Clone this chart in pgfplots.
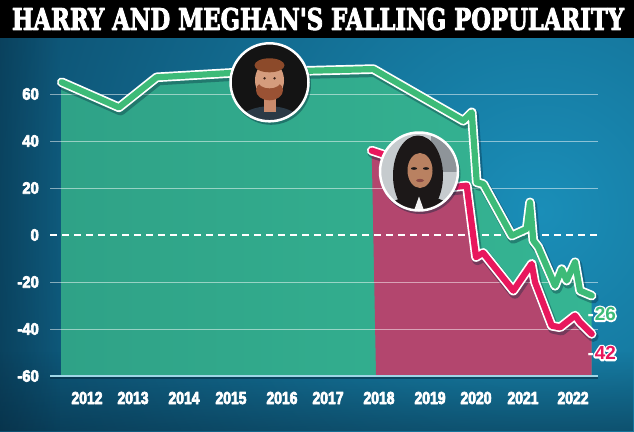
\documentclass[border=0pt]{standalone}
\usepackage{pgfplots}
\pgfplotsset{compat=1.18}
\usepackage{pgfplotstable}
\usepackage{graphicx}
\usepackage{fontspec}
\usetikzlibrary{fadings}
\setmainfont{Liberation Sans}
\newfontfamily\ttlf{DejaVu Serif}
\newfontfamily\xtf[FakeStretch=0.8]{Liberation Sans}
\newfontfamily\ytf[FakeStretch=0.9]{Liberation Sans}
\newfontfamily\lbf{Liberation Sans}

\definecolor{bgdark}{HTML}{09405E}
\definecolor{bglight}{HTML}{1A8EB8}
\definecolor{gfill}{HTML}{35B593}
\definecolor{gfillL}{HTML}{2FA287}
\definecolor{rfill}{HTML}{B3466E}
\definecolor{hgreen}{HTML}{3DBB78}
\definecolor{mred}{HTML}{E8175D}
\definecolor{shadowc}{HTML}{06263A}
\definecolor{basec}{HTML}{9FD6E6}
\definecolor{hshirt}{HTML}{2B3A46}
\definecolor{hneck}{HTML}{C98B6C}
\definecolor{hskin}{HTML}{D59C7D}
\definecolor{hbeard}{HTML}{9A5234}
\definecolor{hhair}{HTML}{8C4A2A}
\definecolor{heye}{HTML}{3A2218}
\definecolor{mbg}{HTML}{C6CBCE}
\definecolor{mbg2}{HTML}{8E9499}
\definecolor{mhair}{HTML}{1C1818}
\definecolor{mcollar}{HTML}{F2F2F2}
\definecolor{mskin}{HTML}{B98161}
\definecolor{mlip}{HTML}{8A4A44}

% heavier white tick labels (white stroke, single text)
\newcommand\sh[1]{\special{pdf:code q 1 1 1 RG 0.7 w 1 j 2 Tr}#1\special{pdf:code Q}}
% white outline for end labels
\newcommand\outl[2]{\leavevmode\rlap{\textcolor{white}{\special{pdf:code q 1 1 1 RG 3.4 w 1 j 2 Tr}#2\special{pdf:code Q}}}\textcolor{#1}{#2}}

% Harry (green) popularity
\pgfplotstableread{
x y
2011.48 65.0
2012.658 54.3
2013.434 67.1
2015.004 69.0
2016.588 69.9
2017.891 70.6
2019.743 48.6
2019.916 52.2
2020.019 22.4
2020.154 21.7
2020.739 -0.3
2021.047 2.6
2021.115 13.9
2021.183 -2.4
2021.286 -5.2
2021.630 -21.6
2021.767 -14.5
2021.870 -19.4
2022.041 -11.6
2022.144 -23.7
2022.385 -25.8
}\harry

% Meghan (red) popularity
\pgfplotstableread{
x y
2017.858 35.9
2018.064 34.5
2019.504 20.3
2019.813 21.0
2020.004 -9.4
2020.150 -7.6
2020.772 -23.7
2021.150 -12.3
2021.218 -20.1
2021.562 -38.6
2021.733 -39.3
2022.041 -34.3
2022.144 -37.2
2022.385 -42.1
}\meghan

\begin{document}
\begin{tikzpicture}[x=1bp,y=1bp]
\useasboundingbox (0,0) rectangle (634,431);
% background
\begin{scope}
\clip (0,0) rectangle (634,431);
\fill[bgdark] (0,0) rectangle (634,431);
\shade[inner color=bglight, outer color=bgdark] (540,220) circle (720);
\fill[shadowc, opacity=0.45, path fading=north] (0,0) rectangle (634,80);
\fill[shadowc, opacity=0.35, path fading=east] (0,0) rectangle (60,431);
\end{scope}
% title bar
\fill[black] (0,393) rectangle (634,431);
\node[text=white, inner sep=0pt] at (318,412)
  {\resizebox{612bp}{22bp}{\special{pdf:code q 1 1 1 RG 0.35 w 1 j 2 Tr}\ttlf\bfseries HARRY AND MEGHAN'S FALLING POPULARITY\special{pdf:code Q}}};

\begin{axis}[
  at={(50bp,55bp)}, anchor=south west,
  scale only axis, width=548bp, height=282bp,
  xmin=2011.239, xmax=2022.514, ymin=-60, ymax=60,
  clip=false,
  axis line style={draw=none},
  major tick style={draw=none},
  xtick={2012,2012.947,2013.996,2014.963,2016.012,2016.959,2018.008,2019.058,2020.004,2020.971,2022},
  xticklabels={\sh{2012},\sh{2013},\sh{2014},\sh{2015},\sh{2016},\sh{2017},\sh{2018},\sh{2019},\sh{2020},\sh{2021},\sh{2022}},
  ytick={-60,-40,-20,0,20,40,60},
  yticklabels={\sh{-60},\sh{-40},\sh{-20},\sh{0},\sh{20},\sh{40},\sh{60}},
  xticklabel style={anchor=center, inner sep=0pt, yshift=-22bp, text=white,
     font=\xtf\bfseries\fontsize{17.5}{17.5}\selectfont},
  yticklabel style={anchor=east, inner sep=0pt, xshift=-11bp, text=white,
     font=\ytf\bfseries\fontsize{16.5}{16.5}\selectfont},
]
% areas
\addplot[draw=none, left color=gfillL, right color=gfill] table[x=x,y=y] {\harry}
   -- (axis cs:2022.385,-60) -- (axis cs:2011.48,-60) -- cycle;
\addplot[draw=none, fill=rfill] table[x=x,y=y] {\meghan}
   -- (axis cs:2022.385,-60) -- (axis cs:2017.947,-60) -- cycle;
% grid
\pgfplotsinvokeforeach{60,40,20,-20,-40}{
  \draw[white, opacity=0.5, line width=0.9bp] (axis cs:2011.239,#1) -- (axis cs:2022.514,#1);
}
\draw[white, line width=1.6bp, dash pattern=on 7bp off 5bp] (axis cs:2011.239,0) -- (axis cs:2022.514,0);
\draw[shadowc, opacity=0.5, line width=2bp] (axis cs:2011.239,-61.0) -- (axis cs:2022.514,-61.0);
\draw[basec, line width=1.8bp] (axis cs:2011.239,-60) -- (axis cs:2022.514,-60);
% Harry line
\addplot[shadowc, opacity=0.35, line width=11bp, line join=round, line cap=round,
   transform canvas={xshift=1.5bp,yshift=-2.5bp}] table[x=x,y=y] {\harry};
\addplot[white, line width=9.6bp, line join=round, line cap=round] table[x=x,y=y] {\harry};
\addplot[hgreen, line width=6.2bp, line join=round, line cap=round] table[x=x,y=y] {\harry};
% Meghan line
\addplot[shadowc, opacity=0.35, line width=11bp, line join=round, line cap=round,
   transform canvas={xshift=1.5bp,yshift=-2.5bp}] table[x=x,y=y] {\meghan};
\addplot[white, line width=9.6bp, line join=round, line cap=round] table[x=x,y=y] {\meghan};
\addplot[mred, line width=6.2bp, line join=round, line cap=round] table[x=x,y=y] {\meghan};
% end labels
\node[inner sep=0pt, font=\lbf\bfseries\fontsize{19}{19}\selectfont] at (axis cs:2022.59,-33.6)
  {\textcolor{white}{-}\kern1bp\outl{hgreen}{26}};
\node[inner sep=0pt, font=\lbf\bfseries\fontsize{19}{19}\selectfont] at (axis cs:2022.59,-50.2)
  {\textcolor{white}{-}\kern1bp\outl{mred}{42}};
\end{axis}

% Harry portrait
\begin{scope}[shift={(269.5,348.7)}]
  \fill[shadowc, opacity=0.4] (1.5,-2.5) circle (40);
  \begin{scope}
    \clip (0,0) circle (39);
    \fill[black!92] (0,0) circle (39);
    \fill[hshirt] (0,-44) ellipse (34 and 20);
    \fill[hneck] (-6,-30) rectangle (6,-14);
    \fill[hskin] (0,2) ellipse (14.5 and 18.5);
    \fill[hbeard] (0,-8) ellipse (13.5 and 10);
    \fill[hskin] (0,2) ellipse (12 and 8);
    \fill[hhair] (0,17) ellipse (15 and 7);
    \fill[heye] (-5,4) circle (1.3);
    \fill[heye] (5,4) circle (1.3);
  \end{scope}
  \draw[white, line width=2.5bp] (0,0) circle (39);
\end{scope}

% Meghan portrait
\begin{scope}[shift={(419,259.5)}]
  \fill[shadowc, opacity=0.4] (1.5,-2.5) circle (40);
  \begin{scope}
    \clip (0,0) circle (39);
    \fill[mbg] (0,0) circle (39);
    \fill[mbg2] (12,0) rectangle (40,40);
    \fill[mhair] (-1,-4) ellipse (25 and 40);
    \fill[mhair] (0,-44) ellipse (36 and 20);
    \fill[mcollar] (-5,-39) -- (0,-25) -- (5,-39) -- cycle;
    \fill[mskin] (1,1) ellipse (12.5 and 17.5);
    \fill[mhair] (-5,3) ellipse (3 and 1.3);
    \fill[mhair] (7,3) ellipse (3 and 1.3);
    \fill[mlip] (1,-9) ellipse (4 and 1.6);
  \end{scope}
  \draw[white, line width=2.5bp] (0,0) circle (39);
\end{scope}
\end{tikzpicture}
\end{document}
